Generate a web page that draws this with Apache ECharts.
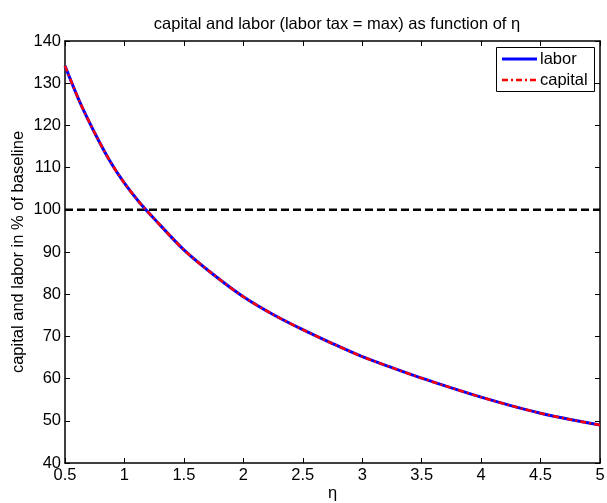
<!DOCTYPE html>
<html>
<head>
<meta charset="utf-8">
<script src="https://cdn.jsdelivr.net/npm/echarts@6/dist/echarts.min.js"></script>
<style>
  html, body { margin: 0; padding: 0; background: #fff; }
  #chart { width: 607px; height: 503px; }
</style>
</head>
<body>
<div id="chart"></div>
<script>
// eta grid and the two response curves (percent of baseline)
const etaVals = [0.5, 0.625, 0.75, 0.875, 1.0, 1.125, 1.25, 1.5, 1.75, 2.0, 2.25, 2.5, 2.75, 3.0, 3.25, 3.5, 3.75, 4.0, 4.25, 4.5, 4.75, 5.0];
const laborVals = [134.1, 125.5, 118.2, 111.7, 106.3, 101.8, 97.9, 90.5, 84.6, 79.4, 75.2, 71.6, 68.3, 65.2, 62.6, 60.1, 57.8, 55.6, 53.6, 51.8, 50.3, 49.0];
const capitalVals = [134.1, 125.5, 118.2, 111.7, 106.3, 101.8, 97.9, 90.5, 84.6, 79.4, 75.2, 71.6, 68.3, 65.2, 62.6, 60.1, 57.8, 55.6, 53.6, 51.8, 50.3, 49.0];
const baselineLevel = 100;
const xTicks = { min: 0.5, max: 5, step: 0.5 };
const yTicks = { min: 40, max: 140, step: 10 };

const FONT = '"Liberation Sans", Arial, sans-serif';
const FS = 16.5;

const pairs = (xs, ys) => xs.map((x, i) => [x, ys[i]]);

const chart = echarts.init(document.getElementById('chart'), null, { renderer: 'canvas' });

const axisCommon = {
  axisLine: { show: true, onZero: false, lineStyle: { color: '#000', width: 1.5 } },
  axisTick: { show: true, inside: true, length: 5, lineStyle: { color: '#000', width: 1 } },
  splitLine: { show: false }
};

chart.setOption({
  animation: false,
  backgroundColor: '#fff',
  title: {
    text: 'capital and labor (labor tax = max) as function of η',
    left: 332, top: 11, textAlign: 'center',
    textStyle: { fontFamily: FONT, fontSize: FS, fontWeight: 'normal', color: '#000' }
  },
  grid: { left: 65, right: 7, top: 41, bottom: 40, containLabel: false, outerBoundsMode: 'none' },
  xAxis: [
    Object.assign({
      type: 'value', position: 'bottom',
      min: xTicks.min, max: xTicks.max, interval: xTicks.step,
      name: 'η', nameLocation: 'middle', nameGap: 22, nameMoveOverlap: false,
      nameTextStyle: { fontFamily: FONT, fontSize: FS, color: '#000' },
      axisLabel: { fontFamily: FONT, fontSize: FS, color: '#000', margin: 4 }
    }, axisCommon),
    Object.assign({
      type: 'value', position: 'top',
      min: xTicks.min, max: xTicks.max, interval: xTicks.step,
      axisLabel: { show: false }
    }, axisCommon)
  ],
  yAxis: [
    Object.assign({
      type: 'value', position: 'left',
      min: yTicks.min, max: yTicks.max, interval: yTicks.step,
      name: 'capital and labor in % of baseline', nameLocation: 'middle', nameGap: 38, nameMoveOverlap: false,
      nameTextStyle: { fontFamily: FONT, fontSize: FS, color: '#000' },
      axisLabel: { fontFamily: FONT, fontSize: FS, color: '#000', margin: 4 }
    }, axisCommon),
    Object.assign({
      type: 'value', position: 'right',
      min: yTicks.min, max: yTicks.max, interval: yTicks.step,
      axisLabel: { show: false }
    }, axisCommon)
  ],
  series: [
    {
      name: 'baseline', type: 'line', silent: true,
      data: [[xTicks.min, baselineLevel], [xTicks.max, baselineLevel]],
      showSymbol: false, symbol: 'none',
      lineStyle: { color: '#000', width: 2.5, type: [8, 4] },
      z: 1
    },
    {
      name: 'labor', type: 'line',
      data: pairs(etaVals, laborVals),
      smooth: 0.3, symbol: 'none',
      lineStyle: { color: '#0000ff', width: 3 },
      z: 2
    },
    {
      name: 'capital', type: 'line',
      data: pairs(etaVals, capitalVals),
      smooth: 0.3, symbol: 'none',
      lineStyle: { color: '#ff0000', width: 2.5, type: [6, 3, 2, 3] },
      z: 3
    }
  ],
  graphic: [
    {
      type: 'rect', left: 496, top: 47, z: 10,
      shape: { width: 98, height: 44 },
      style: { fill: '#fff', stroke: '#000', lineWidth: 1 }
    },
    {
      type: 'line', z: 11,
      shape: { x1: 502, y1: 59, x2: 537, y2: 59 },
      style: { stroke: '#0000ff', lineWidth: 3 }
    },
    {
      type: 'text', x: 540, y: 59, z: 11,
      style: { text: 'labor', font: FS + 'px ' + FONT, fill: '#000', verticalAlign: 'middle' }
    },
    {
      type: 'line', z: 11,
      shape: { x1: 502, y1: 80, x2: 537, y2: 80 },
      style: { stroke: '#ff0000', lineWidth: 2.5, lineDash: [6, 3, 2, 3] }
    },
    {
      type: 'text', x: 540, y: 80, z: 11,
      style: { text: 'capital', font: FS + 'px ' + FONT, fill: '#000', verticalAlign: 'middle' }
    }
  ]
});
</script>
</body>
</html>
